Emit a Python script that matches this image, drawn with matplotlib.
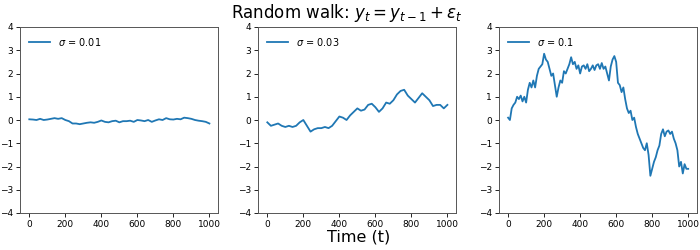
import numpy as np
import matplotlib
matplotlib.use("Agg")
import matplotlib.pyplot as plt

# sigma = 0.01 (sampled every 20 steps)
t1 = list(range(0, 1001, 20))
y1 = [0.03, 0.02, 0.0, 0.05, 0.0, 0.02, 0.05, 0.08, 0.05, 0.08, 0.0, -0.05, -0.15, -0.15,
      -0.18, -0.15, -0.12, -0.1, -0.12, -0.08, -0.02, -0.08, -0.1, -0.05, -0.03, -0.1,
      -0.05, -0.05, -0.03, -0.08, 0.0, -0.02, -0.05, 0.0, -0.08, -0.02, 0.03, 0.0, 0.08,
      0.03, 0.02, 0.05, 0.03, 0.1, 0.08, 0.05, 0.0, -0.03, -0.05, -0.08, -0.15]

# sigma = 0.03 (sampled every 20 steps)
t2 = list(range(0, 1001, 20))
y2 = [-0.1, -0.25, -0.2, -0.15, -0.25, -0.3, -0.25, -0.3, -0.25, -0.1, -0.0, -0.25, -0.5,
      -0.4, -0.35, -0.35, -0.3, -0.35, -0.25, -0.05, 0.15, 0.1, 0.0, 0.2, 0.35, 0.5, 0.4,
      0.45, 0.65, 0.7, 0.55, 0.35, 0.5, 0.75, 0.7, 0.85, 1.1, 1.25, 1.3, 1.05, 0.9, 0.75,
      0.95, 1.15, 1.0, 0.85, 0.6, 0.65, 0.65, 0.5, 0.65]

# sigma = 0.1 (sampled every 10 steps)
t3 = list(range(0, 1001, 10))
y3 = [0.1, 0.0, 0.5, 0.65, 0.75, 1.0, 0.9, 1.05, 0.8, 1.0, 0.75, 1.3, 1.6, 1.4, 1.7, 1.4,
      1.9, 2.2, 2.3, 2.4, 2.85, 2.6, 2.5, 2.2, 1.9, 2.0, 1.5, 1.0, 1.4, 1.7, 1.6, 2.1, 2.0,
      2.2, 2.4, 2.7, 2.4, 2.5, 2.2, 2.35, 2.0, 2.3, 2.35, 2.2, 2.4, 2.1, 2.2, 2.35, 2.15,
      2.35, 2.4, 2.2, 2.45, 2.2, 2.3, 2.0, 1.7, 2.3, 2.6, 2.75, 2.5, 1.6, 1.5, 1.2, 1.4,
      0.9, 0.5, 0.3, 0.4, 0.0, 0.1, -0.3, -0.6, -0.8, -1.0, -1.2, -1.3, -1.0, -1.5, -2.4,
      -2.1, -1.8, -1.6, -1.3, -1.1, -0.6, -0.4, -0.7, -0.5, -0.45, -0.6, -0.5, -0.8, -1.0,
      -1.3, -2.0, -1.8, -2.3, -1.9, -2.1, -2.1]

labels = [r"$\sigma$ = 0.01", r"$\sigma$ = 0.03", r"$\sigma$ = 0.1"]
series = [(t1, y1), (t2, y2), (t3, y3)]

fig = plt.figure(figsize=(7, 2.5), dpi=100)
lefts = [0.029, 0.369, 0.713]
w, b, h = 0.283, 0.148, 0.744
for left, (t, y), lab in zip(lefts, series, labels):
    ax = fig.add_axes([left, b, w, h])
    ax.plot(t, y, color="#1f77b4", lw=1.3, label=lab)
    ax.set_ylim(-4, 4)
    ax.set_yticks(range(-4, 5))
    ax.set_xticks(range(0, 1001, 200))
    ax.tick_params(labelsize=6.5, length=3, width=0.6, pad=2)
    for s in ax.spines.values():
        s.set_linewidth(0.7)
        s.set_color("#555555")
    ax.legend(loc="upper left", frameon=False, fontsize=7, handlelength=2.2)

fig.text(0.495, 0.948, r"Random walk: $y_t = y_{t-1} + \varepsilon_t$", ha="center",
         va="center", fontsize=12)
fig.text(0.512, 0.05, "Time (t)", ha="center", va="center", fontsize=11.5)
fig.savefig("out.png", dpi=100)
